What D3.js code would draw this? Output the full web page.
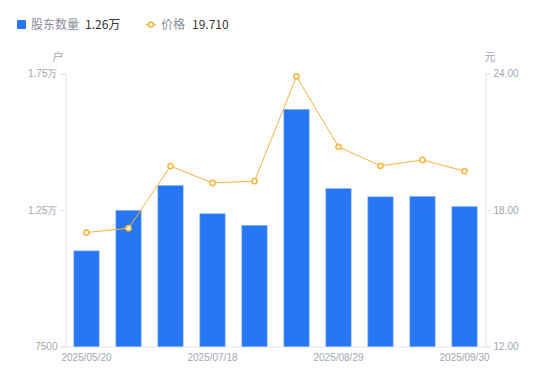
<!DOCTYPE html>
<html>
<head>
<meta charset="utf-8">
<script src="https://cdn.jsdelivr.net/npm/d3@7"></script>
<style>
  body { margin: 0; background: #fff; font-family: "Noto Sans CJK SC", "Noto Sans", sans-serif; }
  svg { display: block; }
</style>
</head>
<body>
<svg id="chart" width="550" height="381"></svg>
<script>
// dates on the x axis (only some are labelled in the picture)
const dates = ['2025/05/20', '2025/06/10', '2025/06/30', '2025/07/18', '2025/07/31',
    '2025/08/15', '2025/08/29', '2025/09/10', '2025/09/19', '2025/09/30'];
const shownDates = ['2025/05/20', '2025/07/18', '2025/08/29', '2025/09/30'];
// number of shareholders (户)
const holders = [11000, 12480, 13390, 12360, 11930, 16180, 13280, 12980, 12990, 12620];
// price (元)
const prices = [17.01, 17.20, 19.93, 19.19, 19.27, 23.87, 20.78, 19.94, 20.20, 19.71];
const leftTicks = [7500, 12500, 17500];
const rightTicks = [12, 18, 24];

const svg = d3.select('#chart');
const plotLeft = 65.5, plotRight = 485.5, plotTop = 73.5, plotBottom = 346.5;
const axisColor = '#e3e4e8';
const labelColor = '#a3a6b2';
const barColor = '#2776f5';
const lineColor = '#fbb33a';

const x = d3.scaleBand().domain(dates).range([plotLeft, plotRight]).paddingInner(0.4).paddingOuter(0.2);
const yL = d3.scaleLinear().domain([7500, 17500]).range([plotBottom, plotTop]);
const yR = d3.scaleLinear().domain([12, 24]).range([plotBottom, plotTop]);

function fmtHolders(v) {
    return v >= 10000 ? (v / 10000).toFixed(2) + '万' : '' + v;
}

// left axis
const gl = svg.append('g').attr('transform', `translate(${plotLeft},0)`)
    .call(d3.axisLeft(yL).tickValues(leftTicks).tickFormat(fmtHolders).tickSize(5).tickPadding(3));
// right axis
const gr = svg.append('g').attr('transform', `translate(${plotRight},0)`)
    .call(d3.axisRight(yR).tickValues(rightTicks).tickFormat(d3.format('.2f')).tickSize(5).tickPadding(3));
// bottom axis
const gb = svg.append('g').attr('transform', `translate(0,${plotBottom})`)
    .call(d3.axisBottom(x).tickValues(shownDates).tickSize(0).tickPadding(7));

[gl, gr, gb].forEach(g => {
    g.selectAll('path, line').attr('stroke', axisColor);
    g.selectAll('text').attr('fill', labelColor).style('font-size', '10px')
        .style('font-family', '"Liberation Sans", Arial, sans-serif');
});

// unit labels
svg.append('text').attr('x', 58).attr('y', 61).attr('text-anchor', 'middle')
    .attr('fill', labelColor).style('font-size', '11px').text('户');
svg.append('text').attr('x', 490).attr('y', 61).attr('text-anchor', 'middle')
    .attr('fill', labelColor).style('font-size', '11px').text('元');

// bars
svg.append('g').selectAll('rect')
    .data(holders)
    .join('rect')
    .attr('x', (d, i) => x(dates[i]))
    .attr('y', d => yL(d))
    .attr('width', x.bandwidth())
    .attr('height', d => plotBottom - yL(d))
    .attr('fill', barColor)
    .attr('stroke', '#6fa3f8')
    .attr('stroke-width', 0.6);

// price line
const cx = i => x(dates[i]) + x.bandwidth() / 2;
const line = d3.line().x((d, i) => cx(i)).y(d => yR(d));
svg.append('path').datum(prices)
    .attr('d', line)
    .attr('fill', 'none')
    .attr('stroke', lineColor)
    .attr('stroke-width', 1);
svg.append('g').selectAll('circle')
    .data(prices)
    .join('circle')
    .attr('cx', (d, i) => cx(i))
    .attr('cy', d => yR(d))
    .attr('r', 2.6)
    .attr('fill', '#fff')
    .attr('stroke', lineColor)
    .attr('stroke-width', 1.5);

// legend
const lg = svg.append('g').style('font-size', '12px');
lg.append('rect').attr('x', 17).attr('y', 20).attr('width', 9).attr('height', 9)
    .attr('rx', 1).attr('fill', barColor);
lg.append('text').attr('x', 31).attr('y', 29).attr('fill', '#8a8d99').text('股东数量');
lg.append('text').attr('x', 85).attr('y', 29).attr('fill', '#333').text(fmtHolders(holders[holders.length - 1]));
lg.append('line').attr('x1', 146).attr('x2', 156).attr('y1', 24.5).attr('y2', 24.5)
    .attr('stroke', lineColor).attr('stroke-width', 1.5);
lg.append('circle').attr('cx', 151).attr('cy', 24.5).attr('r', 2.5)
    .attr('fill', '#fff').attr('stroke', lineColor).attr('stroke-width', 1.5);
lg.append('text').attr('x', 161).attr('y', 29).attr('fill', '#8a8d99').text('价格');
lg.append('text').attr('x', 192).attr('y', 29).attr('fill', '#333').text(prices[prices.length - 1].toFixed(3));
</script>
</body>
</html>
